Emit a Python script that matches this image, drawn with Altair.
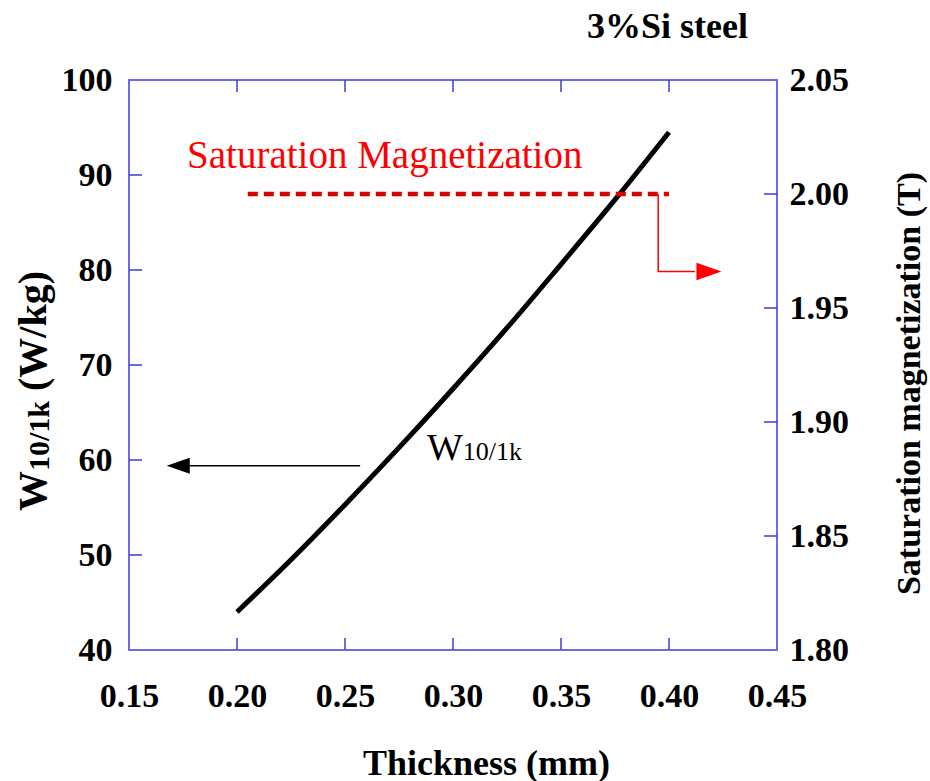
import altair as alt
import pandas as pd

# ---- data ----
thickness = [0.20, 0.225, 0.25, 0.275, 0.30, 0.325, 0.35, 0.375, 0.40]
w10_1k = [44.0, 49.5, 55.3, 61.3, 67.5, 73.9, 80.6, 87.4, 94.5]

sat_thickness = [0.205, 0.40]
sat_magnetization = [2.00, 2.00]

x_ticks = [0.15, 0.20, 0.25, 0.30, 0.35, 0.40, 0.45]
w_ticks = [40, 50, 60, 70, 80, 90, 100]
b_ticks = [1.80, 1.85, 1.90, 1.95, 2.00, 2.05]

# annotation anchors (data space)
left_arrow_x = [0.178, 0.257]
left_arrow_y = 59.4
left_head_x = 0.1728
red_path_x = [0.395, 0.395, 0.412]
red_path_b = [2.00, 1.966, 1.966]
red_head_x = 0.4185

W, H = 648, 570
FONT = "Liberation Serif"
FRAME = "#6b6be8"
TICK = "#3c3cd8"
RED = "#ff0000"

xs = alt.Scale(domain=[0.15, 0.45], nice=False, zero=False)
ws = alt.Scale(domain=[40, 100], nice=False, zero=False)
bs = alt.Scale(domain=[1.80, 2.05], nice=False, zero=False)

X_AXIS = alt.Axis(values=x_ticks, format=".2f", ticks=False, domain=False, grid=False,
                  labelFlush=False, labelOverlap=False,
                  labelFont=FONT, labelFontSize=34, labelFontWeight="bold", labelColor="black",
                  labelPadding=29, title="Thickness (mm)", titleFont=FONT, titleFontSize=36,
                  titleFontWeight="bold", titleColor="black", titleX=357, titleY=124,
                  titleBaseline="alphabetic", titleAlign="center")
W_AXIS = alt.Axis(values=w_ticks, ticks=False, domain=False, grid=False,
                  labelFlush=False, labelOverlap=False,
                  labelFont=FONT, labelFontSize=34, labelFontWeight="bold", labelColor="black",
                  labelPadding=17, title=None)
B_AXIS = alt.Axis(values=b_ticks, format=".2f", orient="right", ticks=False, domain=False, grid=False,
                  labelFlush=False, labelOverlap=False,
                  labelFont=FONT, labelFontSize=34, labelFontWeight="bold", labelColor="black",
                  labelPadding=12, title="Saturation magnetization (T)", titleFont=FONT,
                  titleFontSize=34, titleFontWeight="bold", titleColor="black", titleAngle=270,
                  titleX=142, titleY=303, titleBaseline="alphabetic", titleAlign="center")


def xenc(field="t:Q"):
    return alt.X(field, scale=xs, axis=X_AXIS)


curve_df = pd.DataFrame({"t": thickness, "w": w10_1k})
curve = alt.Chart(curve_df).mark_line(color="black", strokeWidth=5, strokeCap="butt",
                                      interpolate="monotone").encode(
    x=xenc(),
    y=alt.Y("w:Q", scale=ws, axis=W_AXIS),
)

sat_df = pd.DataFrame({"t": sat_thickness, "b": sat_magnetization})
sat = alt.Chart(sat_df).mark_line(color="#e00000", strokeWidth=4.5, strokeDash=[10, 6]).encode(
    x=xenc(),
    y=alt.Y("b:Q", scale=bs, axis=B_AXIS),
)

red_df = pd.DataFrame({"t": red_path_x, "b": red_path_b, "o": [0, 1, 2]})
red_line = alt.Chart(red_df).mark_line(color=RED, strokeWidth=1.5).encode(
    x=xenc(),
    y=alt.Y("b:Q", scale=bs, axis=None),
    order="o:Q",
)
red_head = alt.Chart(pd.DataFrame({"t": [red_head_x], "b": [red_path_b[-1]]})).mark_point(
    shape="M 1 0 L -1 -0.7 L -1 0.7 Z", filled=True, color=RED, opacity=1, size=625, strokeWidth=0
).encode(x=xenc(), y=alt.Y("b:Q", scale=bs, axis=None))

la_df = pd.DataFrame({"t": left_arrow_x, "w": [left_arrow_y, left_arrow_y]})
left_line = alt.Chart(la_df).mark_line(color="black", strokeWidth=1.5).encode(
    x=xenc(),
    y=alt.Y("w:Q", scale=ws, axis=None),
)
left_head = alt.Chart(pd.DataFrame({"t": [left_head_x], "w": [left_arrow_y]})).mark_point(
    shape="M -1 0 L 1 -0.7 L 1 0.7 Z", filled=True, color="black", opacity=1, size=529, strokeWidth=0
).encode(x=xenc(), y=alt.Y("w:Q", scale=ws, axis=None))

# in-plot labels
sat_text = alt.Chart(pd.DataFrame({"t": [0.1769], "w": [90.7], "s": ["Saturation Magnetization"]})).mark_text(
    font=FONT, fontSize=39, color=RED, align="left", baseline="alphabetic"
).encode(x=xenc(), y=alt.Y("w:Q", scale=ws, axis=None), text="s:N")

wl_df = pd.DataFrame({"t": [0.288, 0.3045], "w": [60.0, 60.0], "s": ["W", "10/1k"]})
w_main = alt.Chart(wl_df.iloc[[0]]).mark_text(
    font=FONT, fontSize=38, color="black", align="left", baseline="alphabetic"
).encode(x=xenc(), y=alt.Y("w:Q", scale=ws, axis=None), text="s:N")
w_sub = alt.Chart(wl_df.iloc[[1]]).mark_text(
    font=FONT, fontSize=26, color="black", align="left", baseline="alphabetic"
).encode(x=xenc(), y=alt.Y("w:Q", scale=ws, axis=None), text="s:N")

# inward ticks
xt_df = pd.DataFrame({"t": x_ticks[1:-1]})
xt_bottom = alt.Chart(xt_df).mark_rule(color=TICK, strokeWidth=1.5).encode(
    x=xenc(), y=alt.value(H), y2=alt.value(H - 12))
xt_top = alt.Chart(xt_df).mark_rule(color=TICK, strokeWidth=1.5).encode(
    x=xenc(), y=alt.value(0), y2=alt.value(12))
wt = alt.Chart(pd.DataFrame({"w": w_ticks[1:-1]})).mark_rule(color=TICK, strokeWidth=1.5).encode(
    y=alt.Y("w:Q", scale=ws, axis=None), x=alt.value(0), x2=alt.value(13))
bt = alt.Chart(pd.DataFrame({"b": b_ticks[1:-1]})).mark_rule(color=TICK, strokeWidth=1.5).encode(
    y=alt.Y("b:Q", scale=bs, axis=None), x=alt.value(W - 13), x2=alt.value(W))

# left axis title (with subscript) and chart title as text
lt_W = alt.Chart(pd.DataFrame({"s": ["W"]})).mark_text(
    font=FONT, fontSize=40, fontWeight="bold", color="black", angle=270, align="left", baseline="alphabetic"
).encode(text="s:N", x=alt.value(-83), y=alt.value(431))
lt_sub = alt.Chart(pd.DataFrame({"s": ["10/1k"]})).mark_text(
    font=FONT, fontSize=30, fontWeight="bold", color="black", angle=270, align="left", baseline="alphabetic"
).encode(text="s:N", x=alt.value(-80), y=alt.value(391))
lt_rest = alt.Chart(pd.DataFrame({"s": ["(W/kg)"]})).mark_text(
    font=FONT, fontSize=40, fontWeight="bold", color="black", angle=270, align="left", baseline="alphabetic"
).encode(text="s:N", x=alt.value(-83), y=alt.value(311))
title = alt.Chart(pd.DataFrame({"s": ["3%Si steel"]})).mark_text(
    font=FONT, fontSize=36, fontWeight="bold", color="black", align="right", baseline="alphabetic"
).encode(text="s:N", x=alt.value(619), y=alt.value(-42))

chart = alt.layer(
    curve, sat, red_line, red_head, left_line, left_head, sat_text, w_main, w_sub,
    xt_bottom, xt_top, wt, bt, lt_W, lt_sub, lt_rest, title,
).resolve_scale(y="independent").resolve_axis(y="independent").properties(
    width=W, height=H,
    autosize=alt.AutoSizeParams(type="none"),
    padding={"left": 129, "top": 80, "right": 153, "bottom": 131},
    background="white",
).configure_view(stroke=FRAME, strokeWidth=2)

chart.save("out.html", embed_options={"renderer": "svg", "actions": False})
